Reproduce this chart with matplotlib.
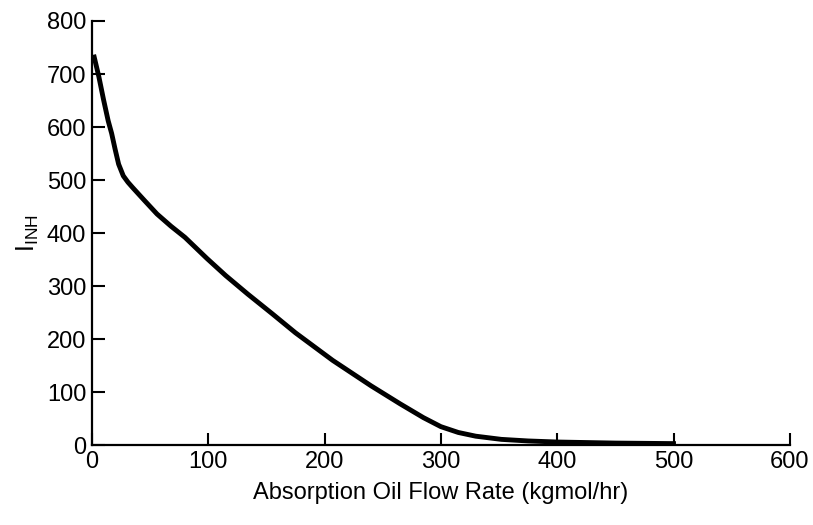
import matplotlib.pyplot as plt

plt.rcParams['font.family'] = ['Liberation Sans', 'DejaVu Sans']

# values
flow_rate = [2, 6, 10, 14, 17, 20, 23, 27, 31, 35, 45, 56, 68, 80, 99, 115,
             134, 155, 175, 207, 240, 265, 285, 300, 315, 330, 352, 375, 400, 450, 500]
i_inh = [732, 695, 652, 612, 588, 558, 530, 508, 496, 486, 462, 436, 413, 392, 352, 320,
         285, 248, 212, 160, 112, 78, 52, 35, 24, 17, 11, 8, 6, 4, 3]

x_ticks = [0, 100, 200, 300, 400, 500, 600]
y_ticks = [0, 100, 200, 300, 400, 500, 600, 700, 800]

fig = plt.figure(figsize=(8.13, 5.25), dpi=100)
ax = fig.add_axes([0.113, 0.152, 0.8585, 0.808])

ax.plot(flow_rate, i_inh, color='black', linewidth=3.5, solid_joinstyle='round')

ax.set_xlim(0, 600)
ax.set_ylim(0, 800)
ax.set_xticks(x_ticks)
ax.set_yticks(y_ticks)

for side in ['top', 'right']:
    ax.spines[side].set_visible(False)
for side in ['left', 'bottom']:
    ax.spines[side].set_linewidth(1.6)

ax.tick_params(direction='in', length=9, width=1.5, labelsize=17, pad=4)
ax.set_xlabel('Absorption Oil Flow Rate (kgmol/hr)', fontsize=17, labelpad=7)
ax.set_ylabel(r'$\mathregular{I_{INH}}$', fontsize=18, labelpad=4)

fig.savefig('out.png', dpi=100)
